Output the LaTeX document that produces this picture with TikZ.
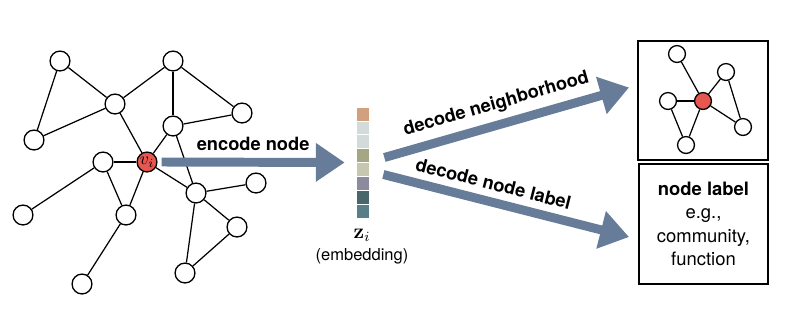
\documentclass[tikz,border=0pt]{standalone}
\usepackage[no-math]{fontspec}
\setmainfont{TeX Gyre Heros}
\usetikzlibrary{arrows.meta,calc}
\definecolor{arrowc}{RGB}{103,124,152}
\definecolor{focus}{RGB}{232,86,80}
\definecolor{e1}{RGB}{211,160,127}
\definecolor{e2}{RGB}{210,218,218}
\definecolor{e4}{RGB}{164,166,132}
\definecolor{e5}{RGB}{198,199,174}
\definecolor{e6}{RGB}{140,139,158}
\definecolor{e7}{RGB}{72,102,108}
\definecolor{e8}{RGB}{86,127,137}
\begin{document}
\begin{tikzpicture}[x=0.02cm,y=-0.02cm,
  vtx/.style={circle,draw,line width=0.75pt,fill=white,minimum size=11.3pt,inner sep=0pt},
  svtx/.style={vtx,minimum size=9.6pt},
  hub/.style={vtx,fill=focus},
  edge/.style={line width=0.7pt},
  bigarrow/.style={draw=arrowc,line width=5.1pt,-{Triangle[length=16.4pt,width=21pt]}},
  arrowtext/.style={font=\fontsize{10.4}{12}\selectfont\bfseries,inner sep=1pt},
  outbox/.style={draw,line width=1.1pt,inner sep=0pt},
  cell/.style={draw=white,line width=0.4pt}]
\useasboundingbox (0,0) rectangle (792,315);

% input graph
\node[vtx] (a) at (60,61) {};
\node[vtx] (b) at (173,61) {};
\node[vtx] (c) at (115,104) {};
\node[vtx] (d) at (242,113) {};
\node[vtx] (e) at (173,126) {};
\node[vtx] (f) at (34,140) {};
\node[vtx] (g) at (103,162) {};
\node[hub] (vi) at (147,162) {$v_i$};
\node[vtx] (h) at (256,183) {};
\node[vtx] (i) at (196,193) {};
\node[vtx] (j) at (23,215) {};
\node[vtx] (k) at (126,215) {};
\node[vtx] (l) at (237,227) {};
\node[vtx] (m) at (185,273) {};
\node[vtx] (n) at (82,284) {};
\foreach \u/\v in {a/c,a/f,c/f,c/b,c/vi,b/e,b/d,e/d,e/vi,e/i,vi/g,vi/k,vi/i,g/k,g/j,k/n,i/h,i/l,i/m,l/m}
  \draw[edge] (\u) -- (\v);

% embedding vector
\node[minimum width=0.26cm,minimum height=2.22cm,inner sep=0pt] (emb) at (362.5,162.5) {};
\foreach \col [count=\r from 0] in {e1,e2,e2,e4,e5,e6,e7,e8}
  \fill[\col,cell] (356,107+13.875*\r) rectangle (369,107+13.875*\r+13.875);
\node (zi) at (362,235) {\large$\mathbf{z}_i$};
\node[font=\fontsize{9.4}{11}\selectfont] (embtxt) at (362,256) {(embedding)};

% output boxes
\node[outbox,minimum width=2.6cm,minimum height=2.38cm] (nbr) at (703,100.5) {};
\node[outbox,minimum width=2.58cm,minimum height=2.4cm,align=center,
      font=\fontsize{10.5}{13.3}\selectfont] (lbl) at (703.5,224)
  {{\bfseries node label}\\e.g.,\\community,\\function};

% neighborhood graph
\node[svtx] (na) at (677,54) {};
\node[svtx] (nb) at (726,72) {};
\node[svtx] (nc) at (668,101) {};
\node[svtx,fill=focus] (nv) at (703,101) {};
\node[svtx] (nd) at (743,127) {};
\node[svtx] (ne) at (686,145) {};
\foreach \u/\v in {na/nv,nb/nv,nb/nd,nv/nd,nv/nc,nv/ne,nc/ne}
  \draw[edge] (\u) -- (\v);

% encoder / decoder arrows
\draw[bigarrow] ($(vi.east)+(4,0)$) -- node[arrowtext,above=3pt] {encode node} ($(emb.west)+(-11,0)$);
\draw[bigarrow] ($(emb.east)+(15,-5)$) -- node[arrowtext,sloped,above=3pt,pos=0.48] {decode neighborhood} ($(nbr.west)+(-8,-13)$);
\draw[bigarrow] ($(emb.east)+(14,12)$) -- node[arrowtext,sloped,above=3pt,pos=0.43] {decode node label} ($(lbl.west)+(-9,13)$);
\end{tikzpicture}
\end{document}
